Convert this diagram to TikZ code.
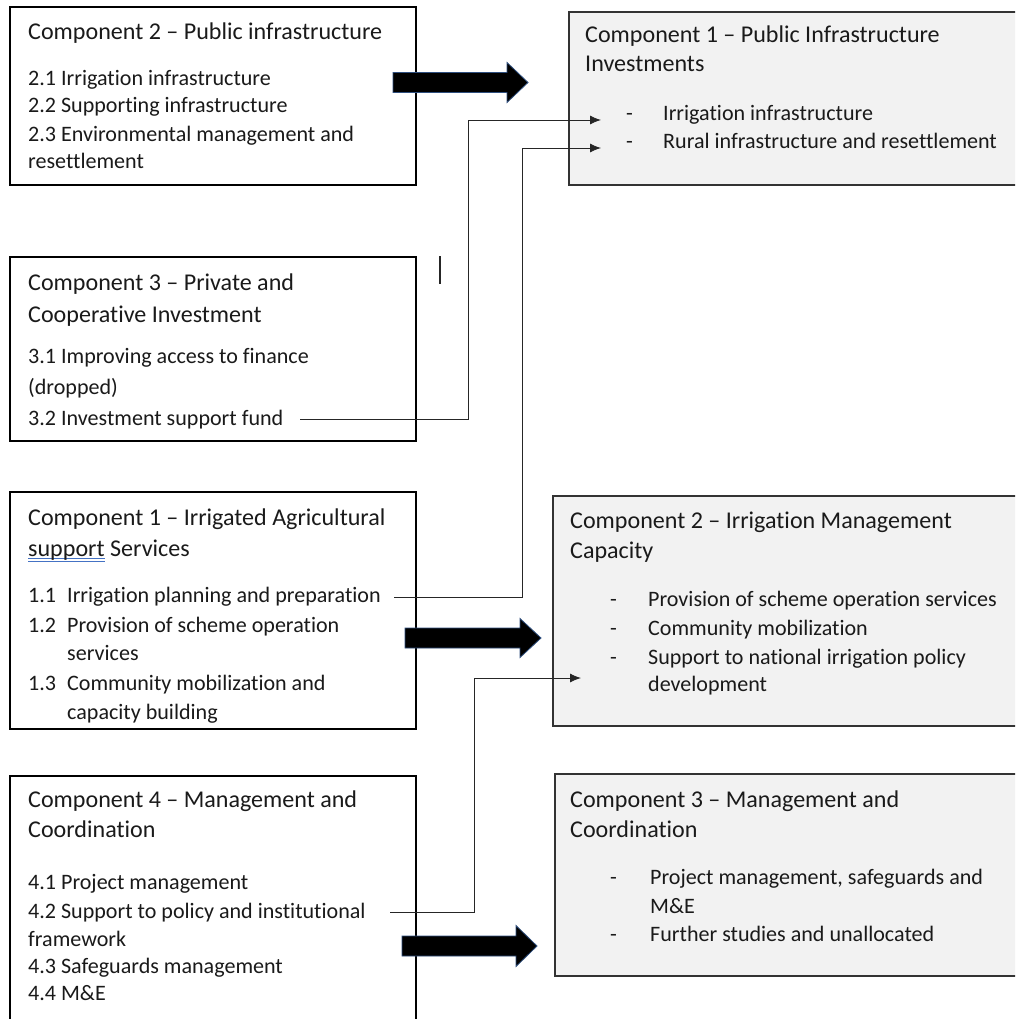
\documentclass[tikz,border=0pt]{standalone}
\usepackage{fontspec}
\setmainfont{Carlito}[Ligatures={TeX,NoCommon}]
\usetikzlibrary{arrows.meta}
\definecolor{boxgray}{HTML}{F2F2F2}
\definecolor{ink}{HTML}{1A1A1A}
\definecolor{arrowedge}{HTML}{2F4F7F}
\definecolor{spell}{HTML}{4472C4}
\definecolor{rline}{HTML}{333333}
\newsavebox\splbox
\newcommand\spellmark[1]{\sbox\splbox{#1}%
  \rlap{\textcolor{spell}{\rule[-3.2pt]{\wd\splbox}{0.8pt}}}%
  \rlap{\textcolor{spell}{\rule[-5.6pt]{\wd\splbox}{0.8pt}}}%
  \usebox\splbox}
\newlength\reflen
\AtBeginDocument{%
  \settowidth\reflen{\fontsize{10pt}{12pt}\selectfont Component 2 – Public infrastructure}%
  \pgfmathsetmacro\fsz{10*354/\reflen}%
  \pgfmathsetmacro\fszb{\fsz*11/12}%
  \xdef\fsz{\fsz}\xdef\fszb{\fszb}}
\begin{document}
\begin{tikzpicture}[x=1pt,y=-1pt]
\tikzset{
  txt/.style={anchor=base west, inner sep=0pt, text=ink, font=\fontsize{\fsz pt}{\fsz pt}\selectfont},
  itm/.style={anchor=base west, inner sep=0pt, text=ink, font=\fontsize{\fszb pt}{\fszb pt}\selectfont},
  lbox/.style={draw=black, line width=1.1pt, fill=white, inner sep=0pt, minimum width=406pt},
  rbox/.style={draw=rline, line width=1.3pt, fill=boxgray, inner sep=0pt},
  conn/.style={draw=black!85, line width=0.9pt},
  tipped/.style={conn, -{Latex[length=11pt,width=9pt]}},
  bigarrow/.style={fill=black, draw=arrowedge, line width=0.8pt, line join=miter}
}
\useasboundingbox (0,0) rectangle (1015,1019);
\fill[white] (0,0) rectangle (1015,1019);
\clip (0,0) rectangle (1015,1019);

% ---------- left boxes ----------
\node[lbox, minimum height=178pt] (boxA) at (213,96) {};
\node[lbox, minimum height=184pt] (boxB) at (213,349) {};
\node[lbox, minimum height=237pt] (boxC) at (213,610.5) {};
\node[lbox, minimum height=254pt] (boxD) at (213,903) {};

% ---------- right boxes ----------
\node[rbox, minimum width=456pt, minimum height=173pt] (boxR1) at (797,98.5) {};
\node[rbox, minimum width=472pt, minimum height=230pt] (boxR2) at (789,611) {};
\node[rbox, minimum width=470pt, minimum height=202pt] (boxR3) at (790,875) {};

% ---------- box A text ----------
\node[txt] (a0) at (28,40) {Component 2 – Public infrastructure};
\node[itm] (a1) at (28,86) {2.1 Irrigation infrastructure};
\node[itm] (a2) at (28,113) {2.2 Supporting infrastructure};
\node[itm] (a3) at (28,142) {2.3 Environmental management and};
\node[itm] (a4) at (28,169) {resettlement};

% ---------- box B text ----------
\node[txt] (b0) at (28,290) {Component 3 – Private and};
\node[txt] (b1) at (28,322) {Cooperative Investment};
\node[itm] (b2) at (28,363) {3.1 Improving access to finance};
\node[itm] (b3) at (28,394) {(dropped)};
\node[itm] (b4) at (28,425) {3.2 Investment support fund};

% ---------- box C text ----------
\node[txt] (c0) at (28,525) {Component 1 – Irrigated Agricultural};
\node[txt] (c1) at (28,556) {\spellmark{support} Services};
\node[itm] (c2n) at (28,602) {1.1};
\node[itm] (c2) at (67,602) {Irrigation planning and preparation};
\node[itm] (c3n) at (28,632) {1.2};
\node[itm] (c3) at (67,632) {Provision of scheme operation};
\node[itm] (c4) at (67,660) {services};
\node[itm] (c5n) at (28,690) {1.3};
\node[itm] (c5) at (67,690) {Community mobilization and};
\node[itm] (c6) at (67,719) {capacity building};

% ---------- box D text ----------
\node[txt] (d0) at (28,807) {Component 4 – Management and};
\node[txt] (d1) at (28,837) {Coordination};
\node[itm] (d2) at (28,889) {4.1 Project management};
\node[itm] (d3) at (28,918) {4.2 Support to policy and institutional};
\node[itm] (d4) at (28,946) {framework};
\node[itm] (d5) at (28,973) {4.3 Safeguards management};
\node[itm] (d6) at (28,1000) {4.4 M\&E};

% ---------- R1 text ----------
\node[txt] (r10) at (585,43) {Component 1 – Public Infrastructure};
\node[txt] (r11) at (585,72) {Investments};
\node[itm] (r12d) at (626,121) {-};
\node[itm] (r12) at (663,121) {Irrigation infrastructure};
\node[itm] (r13d) at (626,149) {-};
\node[itm] (r13) at (663,149) {Rural infrastructure and resettlement};

% ---------- R2 text ----------
\node[txt] (r20) at (570,528) {Component 2 – Irrigation Management};
\node[txt] (r21) at (570,558) {Capacity};
\node[itm] (r22d) at (610,606) {-};
\node[itm] (r22) at (648,606) {Provision of scheme operation services};
\node[itm] (r23d) at (610,635) {-};
\node[itm] (r23) at (648,635) {Community mobilization};
\node[itm] (r24d) at (610,664) {-};
\node[itm] (r24) at (648,664) {Support to national irrigation policy};
\node[itm] (r25) at (648,691) {development};

% ---------- R3 text ----------
\node[txt] (r30) at (570,807) {Component 3 – Management and};
\node[txt] (r31) at (570,837) {Coordination};
\node[itm] (r32d) at (610,884) {-};
\node[itm] (r32) at (650,884) {Project management, safeguards and};
\node[itm] (r33) at (650,913) {M\&E};
\node[itm] (r34d) at (610,941) {-};
\node[itm] (r34) at (650,941) {Further studies and unallocated};

% ---------- big block arrows ----------
\fill[bigarrow] (393,72.5) -- (507,72.5) -- (507,62.5) -- (528,82.5) -- (507,102.5) -- (507,92.5) -- (393,92.5) -- cycle;
\fill[bigarrow] (405,628) -- (520,628) -- (520,618.5) -- (541,638) -- (520,657.5) -- (520,648) -- (405,648) -- cycle;
\fill[bigarrow] (402,936) -- (516,936) -- (516,925.5) -- (537,946) -- (516,966.5) -- (516,956) -- (402,956) -- cycle;

% ---------- thin connectors ----------
\coordinate (k1s) at (300,419);
\coordinate (k1m) at (468,120);
\coordinate (k1e) at (601,120);
\draw[tipped] (k1s) -| (k1m) -- (k1e);

\coordinate (k2s) at (394,597);
\coordinate (k2m) at (522,148);
\coordinate (k2e) at (601,148);
\draw[tipped] (k2s) -| (k2m) -- (k2e);

\coordinate (k3s) at (390,912);
\coordinate (k3m) at (474,678);
\coordinate (k3e) at (581,678);
\draw[tipped] (k3s) -| (k3m) -- (k3e);

% stray mark
\draw[conn, line width=1.2pt] (440,256) -- (440,284);
\end{tikzpicture}
\end{document}
